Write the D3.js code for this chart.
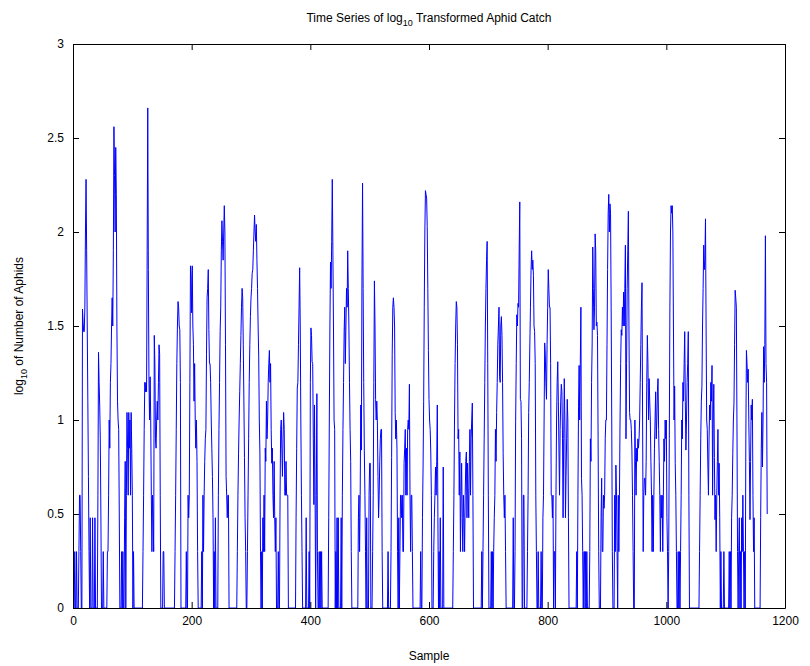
<!DOCTYPE html>
<html>
<head>
<meta charset="utf-8">
<script src="https://cdn.jsdelivr.net/npm/d3@7"></script>
<style>
  body { margin: 0; background: #fff; }
  text { font-family: "Liberation Sans", Arial, Helvetica, sans-serif; }
</style>
</head>
<body>
<svg id="chart" width="810" height="666"></svg>
<script>
// log10 of aphid count per sample (index = sample number)
const catchLog = [
  0,0,0,0.3,0,0,0.3,0,0,0,0.3,0.6,0.6,0.3,0,0,1.59,1.52,1.47,1.47,
  1.6,2.0,2.28,1.9,1.5,1.1,0.7,0.3,0,0.48,0,0,0,0.48,0,0,0,0.48,0,0,
  0,0,0.6,1.36,1.2,1.08,0.9,0.5,0,0,0,0.3,0,0,0,0,0,0,0.3,0.3,
  0.6,1.0,0.85,1.2,1.3,1.5,1.65,1.5,1.9,2.56,2.3,2.0,2.45,2.2,1.5,1.1,1.0,0.95,0.5,0,
  0,0,0.3,0,0.3,0,0,0.48,0.78,0,0.6,1.04,0.85,0.6,1.04,0.85,1.0,0.6,1.04,0.85,
  0.6,0,0.3,0,0,0,0,0,0,0,0,0,0,0,0,0,0,0,0.3,0.6,
  0.95,1.2,1.15,1.2,1.15,1.9,2.66,1.8,1.23,1.0,1.23,1.0,0.6,0.3,0.6,0.48,0.3,1.45,1.3,0.9,
  0.85,1.0,1.1,1.0,1.2,1.4,1.35,0.6,0,0,0,0,0.3,0.3,0,0,0,0,0,0,
  0,0,0,0,0,0,0,0,0,0,0,0,0.3,0.6,0.95,1.3,1.5,1.63,1.6,1.5,
  1.48,1.2,0,0,0,0,0,0,0,0,0,0.3,0,0,0.6,0.48,0.6,1.2,1.82,1.76,
  1.57,1.82,1.5,1.4,1.1,1.3,1.0,0.85,1.0,0.78,0.3,0,0,0,0,0,0,0.3,0,0.6,
  0.3,0.6,0.78,0.9,0.95,1.35,1.65,1.7,1.8,1.48,1.3,1.3,1.2,1.0,0.85,0.7,0.48,0,0.3,0,
  0.48,0,0,0,0,0.6,0.95,1.2,1.47,1.6,1.9,2.06,1.95,1.85,2.0,2.14,2.0,1.4,0.7,0.6,
  0.48,0.6,0.6,0,0,0,0,0,0,0,0,0,0,0,0,0,0,0.3,0.6,0.82,
  1.0,1.15,1.3,1.45,1.6,1.7,1.65,1.4,1.1,0.8,0.48,0.3,0,0,0.3,0.6,0.9,1.2,1.4,1.55,
  1.65,1.7,1.78,1.8,1.9,2.0,2.09,2.0,1.95,2.04,1.85,1.7,1.5,1.34,1.0,0.83,0.3,0,0.3,0,
  0.48,0.3,0.6,0.3,0.85,0.78,1.1,0.9,1.0,1.2,1.3,1.37,1.2,1.3,0.95,0.77,0.85,0.6,0.48,0.78,
  0.48,0.3,0.48,0,0,0,0.3,0,0,0.6,0.95,1.0,0.85,0.7,0.9,1.04,0.95,0.6,0.6,0.78,
  0.6,0.6,0.6,0,0,0,0,0,0,0,0,0,0,0,0,0,0.48,0.85,1.17,1.2,
  1.4,1.6,1.81,1.5,1.0,0.6,0.3,0,0,0,0,0,0,0.48,0,0,0,0,0.3,0,
  1.2,1.49,1.45,1.31,1.3,0.9,0.55,1.08,0.6,0,0.6,1.14,0.3,0,0,0.3,0,0.3,0,0.3,
  0,0,0,0,0,0,0,0,0,0,0,0.48,1.0,1.5,1.84,1.7,1.95,2.28,1.9,1.5,
  1.0,0.95,0,0.3,0,0.48,0,0.48,0,0,0,0,0.48,0,0.6,0.95,1.2,1.47,1.6,1.3,
  1.5,1.7,1.6,1.9,1.7,1.5,1.2,0.95,0.78,0.3,0,0,0,0,0,0,0,0,0,0,
  0,0.48,0.6,0.3,0.6,1.08,0.84,1.74,2.26,1.7,1.2,0.84,0.6,0.3,0,0.48,0,0,0,0.6,
  0.77,0.77,0,0,0,0.3,0.6,1.2,1.74,1.5,1.11,1.0,1.1,0.99,0.7,0.48,0.6,0.78,0.9,0.95,
  0.95,0.3,0,0,0,0,0,0,0,0,0,0.3,0,0,0,0,0.3,0.8,1.35,1.6,
  1.65,1.6,1.5,1.04,0.9,1.0,0.85,0.3,0,0.48,0,0.3,0.6,0.6,0.48,0.6,0.3,0.3,0.77,0.85,
  0.95,0.6,0.85,0.6,0.95,1.0,0.95,1.19,0.6,0.3,0.6,0.6,0.3,0,0,0,0,0,0,0,
  0,0,0,0,0,0,0.3,0,0,0.48,0.75,1.1,1.6,2.0,2.22,2.2,2.18,2.03,1.7,1.37,
  1.11,1.0,0.95,0.83,0.6,0,0,0,0.3,0.48,0.6,0.75,0.6,0.78,1.08,0.48,0,0.3,0,0.48,
  0,0,0,0,0.75,0,0,0,0,0,0,0,0,0,0,0,0,0,0,0,
  0,0.3,0.6,1.0,1.3,1.5,1.63,1.6,1.4,0.9,0.95,0.6,0.83,0.3,0.6,0.77,0.48,0.3,0.6,0.48,
  0.3,0.6,0.78,0.83,0.48,0.77,0.6,0.48,0.78,0.95,0.6,0.9,1.0,1.09,0.6,0,0,0,0,0,
  0,0,0,0,0,0,0,0,0,0.3,0,0.3,0.6,0.9,1.2,1.5,1.7,1.85,1.95,1.3,
  0.6,0,0,0,0,0.3,0,0.3,0,0.3,0.48,0.6,0.95,0.78,1.04,1.2,1.4,1.5,1.6,1.23,
  1.2,1.5,1.55,1.45,1.2,0.82,0.6,0.48,0.6,0.3,0,0,0,0,0,0,0,0,0,0,
  0,0,0.48,0,0,0.3,0.99,1.3,1.56,1.5,1.62,1.6,1.9,2.16,1.11,1.1,0.9,0,0,0.6,
  0.6,0,0,0,0,0,0.3,0.6,1.04,1.2,1.41,1.6,1.8,1.9,1.8,1.85,1.77,1.5,1.47,1.3,
  0.6,0.3,0,0,0.3,0,0,0,0,0.3,0,0,0.48,0.6,1.0,1.41,1.35,1.2,1.11,1.4,
  1.6,1.8,1.7,1.6,1.6,1.3,0.6,0.6,0.48,0.6,0,0.3,0.3,0,0.6,1.0,1.2,1.31,1.1,0.84,
  0.6,0.95,1.1,1.19,1.15,0.9,0.48,0.9,1.22,1.0,0.48,0.7,0.9,1.11,1.0,0.48,0,0,0,0,
  0,0,0,0,0,0,0,0,0,0.3,0,0.6,1.07,1.29,1.0,1.3,1.6,0.69,0.6,0.3,
  0,0.3,0.3,0,0.3,0,0.3,0,0,0,0,0.3,0.9,0.78,1.2,1.41,1.92,1.7,1.48,1.6,
  1.99,1.9,1.5,1.52,1.45,0.9,0.3,0,0,0,0.48,0.69,0.3,0.3,0.6,0.53,0.6,0.9,1.0,1.0,
  1.4,1.8,2.1,2.2,2.0,2.15,2.1,1.6,1.0,0.3,0,0,0,0.6,0.3,0.76,0.6,0.3,0,0.6,
  0.3,0.6,1.0,1.3,1.48,1.45,1.6,1.5,1.68,1.5,1.7,1.93,0.9,1.3,1.7,1.9,2.11,1.5,1.04,1.0,
  1.0,0.95,0.84,0.6,0.3,0,0,1.0,0.78,0.6,0.85,0.78,0.9,0.85,0.9,1.0,1.2,1.4,1.6,1.73,
  1.0,0.3,0.6,0.69,0.69,0.6,0.78,1.2,1.45,1.3,1.0,1.22,1.1,1.0,0.78,0.6,0.3,0.6,0.3,0.6,
  0.85,1.0,1.15,0.9,1.0,1.15,1.22,0.95,0.78,0.6,0.3,0.6,0.48,0.6,0.3,0.6,0.9,0.78,1.0,0.9,
  1.0,0.48,0.3,0,0.3,0.9,1.6,2.0,2.14,2.1,2.14,2.0,1.5,1.0,1.18,0.77,0.6,0.3,0,0,
  0.3,0,0.3,0,0.3,0.6,1.0,0.9,1.2,1.1,1.3,1.47,1.1,0.84,1.0,1.2,1.3,1.47,0.6,0,
  0,0,0,0,0,0,0,0,0,0,0,0,0,0,0,0,0.3,0.6,0.9,1.1,
  1.18,1.5,1.7,1.93,1.8,1.85,2.07,1.5,1.0,0.95,0.76,0.6,0.9,1.08,1.0,1.2,1.1,1.29,0.6,1.0,
  1.19,0.8,0.47,0.6,0.3,0.6,0.78,0.95,0.6,0.77,0.48,0,0.3,0,0,0,0,0.3,0,0,
  0,0,0,0,0,0,0.3,0,0.3,0,0.48,0.6,0.82,1.0,1.09,1.4,1.69,1.65,1.6,1.0,
  0.3,0,0.3,0.48,0,0.3,0,0.48,0.3,0.6,0.3,0,0.3,0,0.9,1.37,1.3,1.2,1.27,1.0,
  0.78,0.47,0.78,1.08,1.0,1.11,0.6,0.3,0.48,0,0,0,0,0,0,0,0,0,0,0.48,
  0.85,1.04,0.75,1.0,1.39,1.2,1.4,1.98,1.3,1.2,0.5
];

const xTickValues = [0, 200, 400, 600, 800, 1000, 1200];
const yTickValues = [0, 0.5, 1, 1.5, 2, 2.5, 3];

const svg = d3.select("#chart");
const margin = { left: 73, right: 25, top: 44, bottom: 58 };
const W = 810, H = 666;
const plotW = W - margin.left - margin.right;
const plotH = H - margin.top - margin.bottom;

const x = d3.scaleLinear().domain([0, 1200]).range([margin.left, margin.left + plotW]);
const y = d3.scaleLinear().domain([0, 3]).range([margin.top + plotH, margin.top]);

svg.append("rect").attr("width", W).attr("height", H).attr("fill", "#fff");

// series
svg.append("path")
  .datum(catchLog)
  .attr("fill", "none")
  .attr("stroke", "#0000ff")
  .attr("stroke-width", 1)
  .attr("d", d3.line().x((d, i) => x(i)).y(d => y(d)));

const tickLen = 6;
const fontSize = 12;

// axes with inward ticks on all four sides
const axisBottomG = svg.append("g").attr("transform", `translate(0,${y(0)})`)
  .call(d3.axisBottom(x).tickValues(xTickValues).tickSizeInner(-tickLen).tickSizeOuter(0).tickPadding(8).tickFormat(d3.format("d")));
const axisTopG = svg.append("g").attr("transform", `translate(0,${y(3)})`)
  .call(d3.axisTop(x).tickValues(xTickValues).tickSizeInner(-tickLen).tickSizeOuter(0).tickFormat(""));
const axisLeftG = svg.append("g").attr("transform", `translate(${x(0)},0)`)
  .call(d3.axisLeft(y).tickValues(yTickValues).tickSizeInner(-tickLen).tickSizeOuter(0).tickPadding(9).tickFormat(d => String(d)));
const axisRightG = svg.append("g").attr("transform", `translate(${x(1200)},0)`)
  .call(d3.axisRight(y).tickValues(yTickValues).tickSizeInner(-tickLen).tickSizeOuter(0).tickFormat(""));

[axisBottomG, axisTopG, axisLeftG, axisRightG].forEach(g => {
  g.selectAll(".domain").attr("stroke", "#000").attr("stroke-width", 1);
  g.selectAll(".tick line").attr("stroke", "#000");
  g.selectAll("text").attr("font-size", fontSize).attr("fill", "#000")
    .attr("font-family", '"Liberation Sans", Arial, sans-serif');
});

// title with subscript
const title = svg.append("text")
  .attr("x", x(600)).attr("y", 22)
  .attr("text-anchor", "middle").attr("font-size", fontSize).attr("fill", "#000");
title.append("tspan").text("Time Series of log");
title.append("tspan").attr("dy", 4).attr("font-size", 9).text("10");
title.append("tspan").attr("dy", -4).text(" Transformed Aphid Catch");

// x label
svg.append("text")
  .attr("x", x(600)).attr("y", 660)
  .attr("text-anchor", "middle").attr("font-size", fontSize).attr("fill", "#000")
  .text("Sample");

// y label with subscript
const ylab = svg.append("text")
  .attr("transform", `translate(23,${y(1.5)}) rotate(-90)`)
  .attr("text-anchor", "middle").attr("font-size", fontSize).attr("fill", "#000");
ylab.append("tspan").text("log");
ylab.append("tspan").attr("dy", 4).attr("font-size", 9).text("10");
ylab.append("tspan").attr("dy", -4).text(" of Number of Aphids");
</script>
</body>
</html>
